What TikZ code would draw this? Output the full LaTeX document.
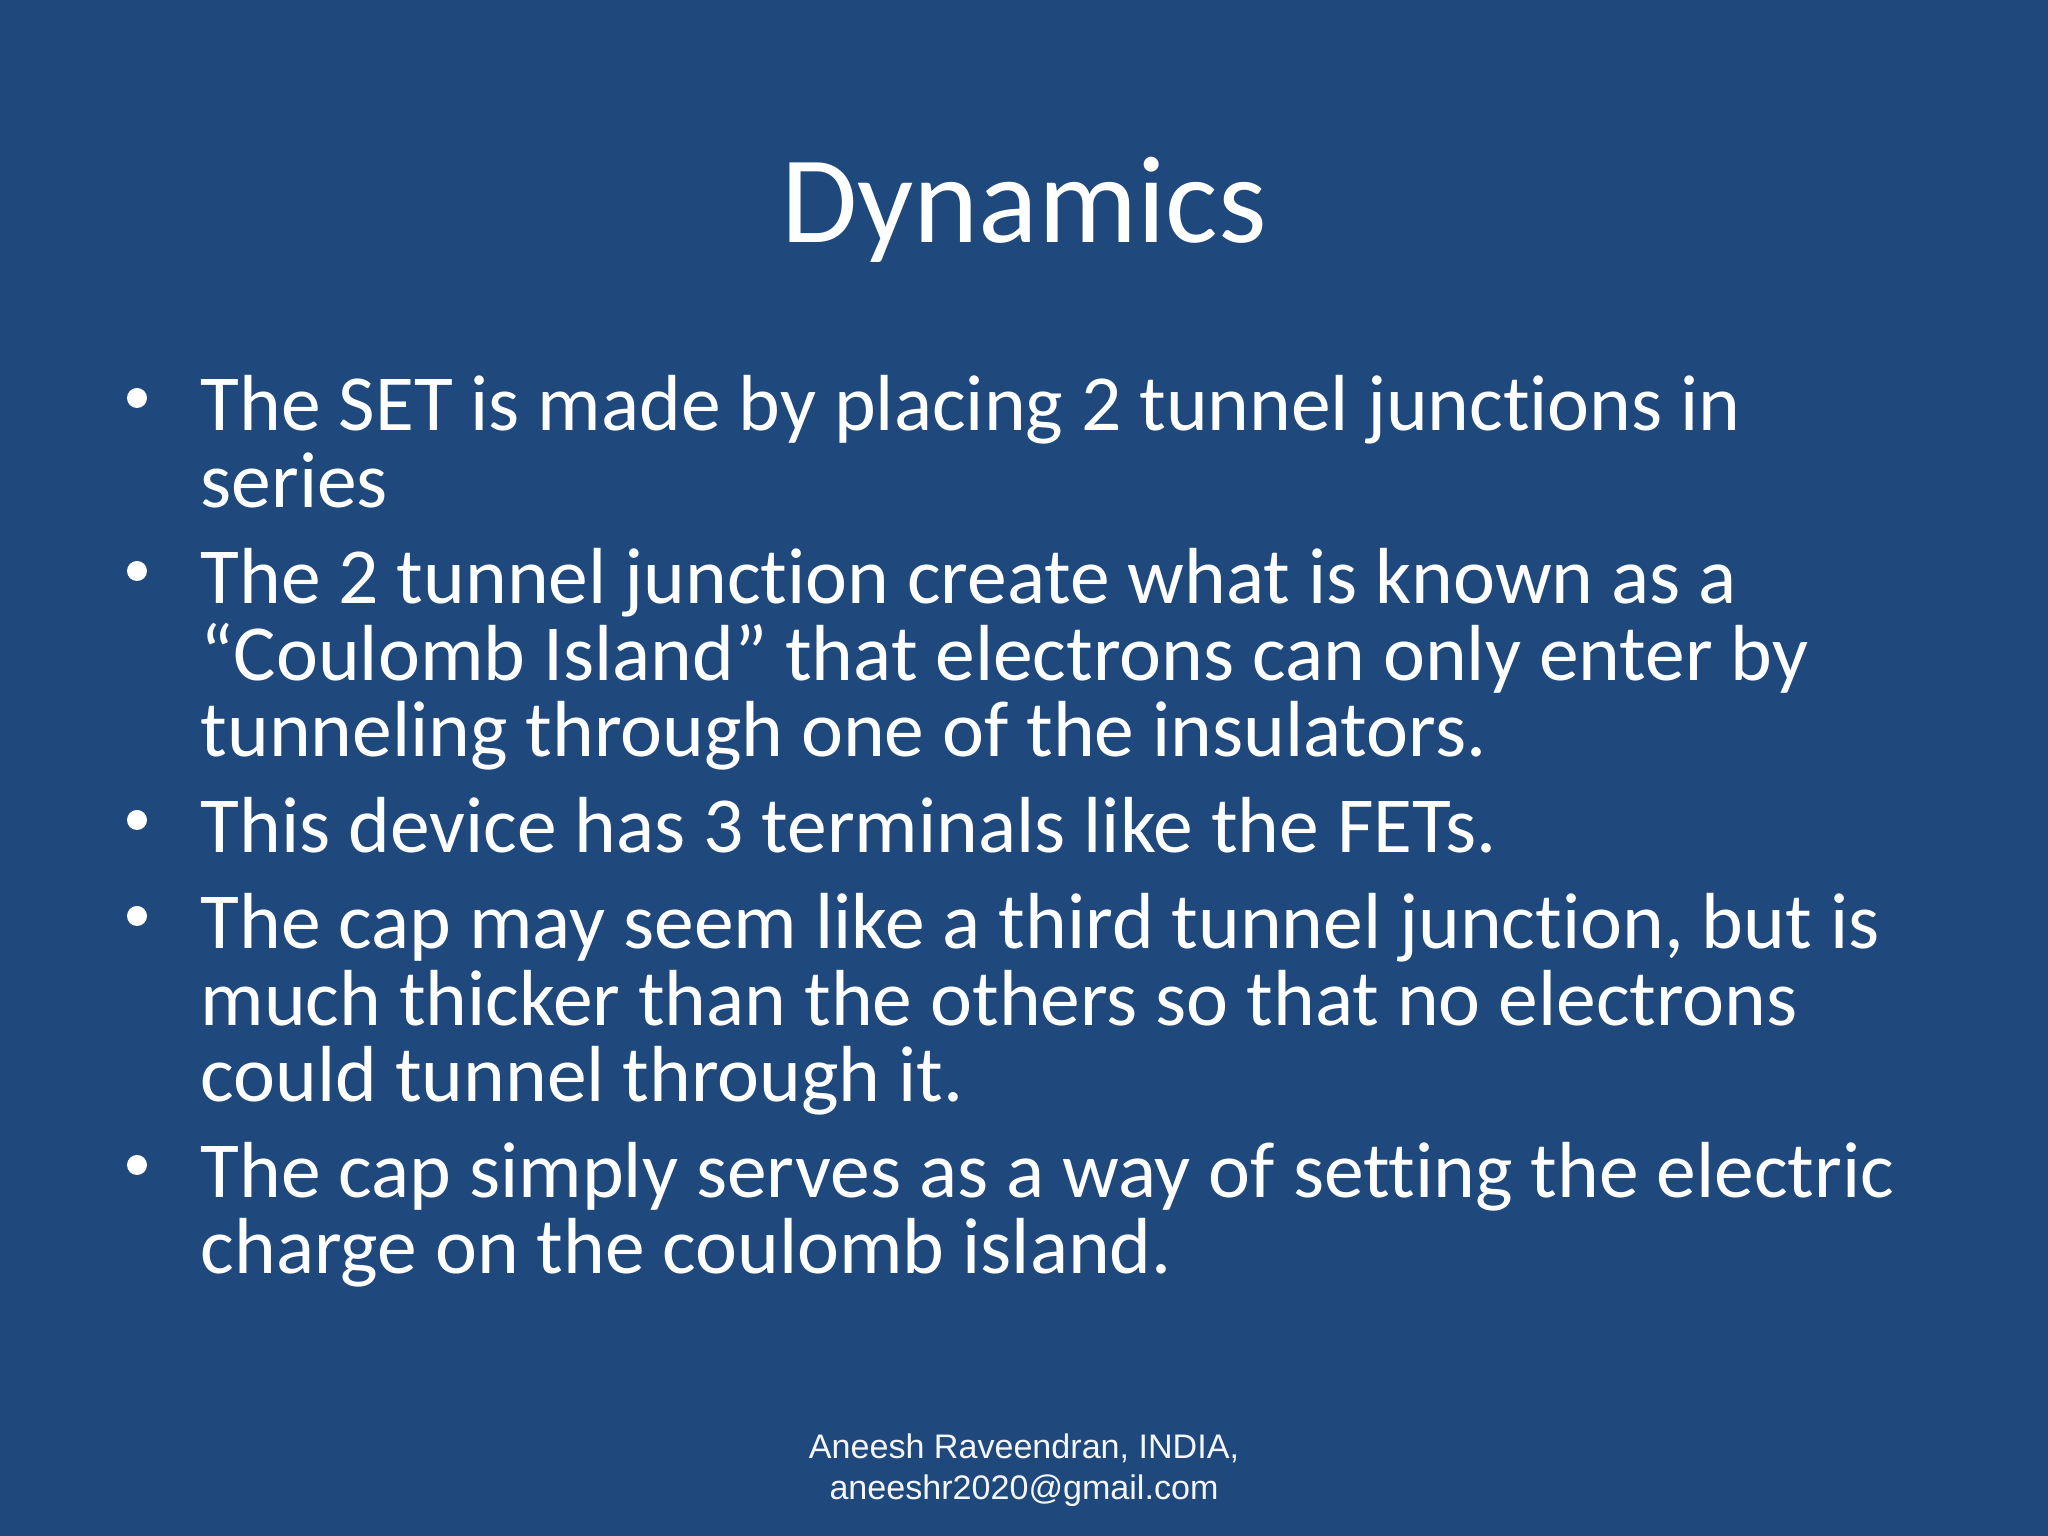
\documentclass[tikz,border=0pt]{standalone}
\usepackage{fontspec}
\setmainfont{Carlito}[Ligatures=NoCommon]
\newfontfamily\footfont{Liberation Sans}
\definecolor{slideblue}{HTML}{1F497D}

\begin{document}
\begin{tikzpicture}
		[title/.style= {text=white,inner sep=0pt,anchor=base,font=\fontsize{35.3}{42}\selectfont},
		line/.style= {text=white,inner sep=0pt,anchor=base west,font=\fontsize{22.62}{27}\selectfont},
		bullet/.style= {circle,fill=white,inner sep=0pt,minimum size=0.2cm},
		foot/.style= {text=white!95!slideblue,inner sep=0pt,anchor=base,font=\footfont\fontsize{9.7}{12}\selectfont}]

		\useasboundingbox (0,0) rectangle (20.48,15.36);
		\fill[slideblue] (0,0) rectangle (20.48,15.36);

		\node[title] (head) at (10.24,12.93) {Dynamics};

		\node[bullet] (b1) at (1.37,11.38) {};
		\node[line] (l1) at (2.00,11.055) {The SET is made by placing 2 tunnel junctions in};
		\node[line] (l2) at (2.00,10.285) {series};

		\node[bullet] (b2) at (1.37,9.65) {};
		\node[line] (l3) at (2.00,9.325) {The 2 tunnel junction create what is known as a};
		\node[line] (l4) at (2.00,8.555) {“Coulomb Island” that electrons can only enter by};
		\node[line] (l5) at (2.00,7.795) {tunneling through one of the insulators.};

		\node[bullet] (b3) at (1.37,7.16) {};
		\node[line] (l6) at (2.00,6.835) {This device has 3 terminals like the FETs.};

		\node[bullet] (b4) at (1.37,6.20) {};
		\node[line] (l7) at (2.00,5.875) {The cap may seem like a third tunnel junction, but is};
		\node[line] (l8) at (2.00,5.105) {much thicker than the others so that no electrons};
		\node[line] (l9) at (2.00,4.345) {could tunnel through it.};

		\node[bullet] (b5) at (1.37,3.71) {};
		\node[line] (l10) at (2.00,3.385) {The cap simply serves as a way of setting the electric};
		\node[line] (l11) at (2.00,2.625) {charge on the coulomb island.};

		\node[foot] (f1) at (10.24,0.775) {Aneesh Raveendran, INDIA,};
		\node[foot] (f2) at (10.24,0.365) {aneeshr2020@gmail.com};
\end{tikzpicture}
\end{document}
